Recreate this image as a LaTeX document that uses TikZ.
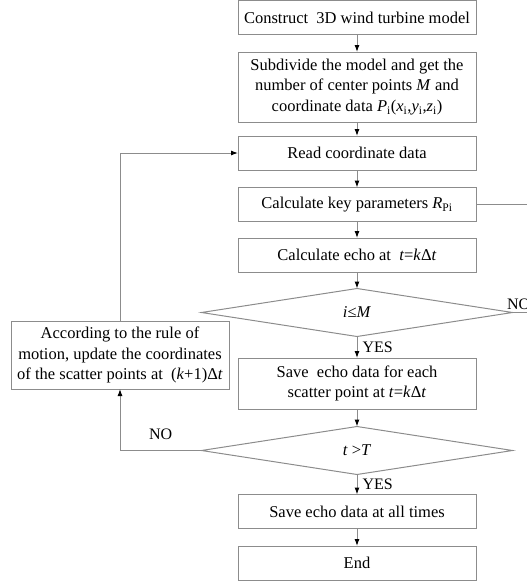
\documentclass[tikz,border=0pt]{standalone}
\usepackage{fontspec}
\setmainfont{Liberation Serif}
\usetikzlibrary{positioning,shapes.geometric,arrows.meta}
\definecolor{linegray}{RGB}{140,140,140}

\begin{document}
\begin{tikzpicture}[->,>={Latex[black,length=7pt,width=5pt]},node distance=17.5pt,
        box/.style={draw=linegray,line width=1pt,minimum width=238pt,minimum height=34pt,
            align=center,inner sep=3pt,outer sep=0pt,font=\fontsize{16.5pt}{20.8pt}\selectfont},
        decision/.style={diamond,aspect=6,draw=linegray,line width=1pt,minimum width=311pt,
            minimum height=48pt,inner sep=0pt,outer sep=0pt,font=\fontsize{16.5pt}{20.8pt}\selectfont},
        line/.style={draw=linegray,line width=1pt},
        every edge/.style={line}]

        \useasboundingbox (0,0) rectangle (527pt,-581pt);

        % Define boxes
        \node[box] (B1) at (357pt,-17.5pt) {Construct\ \ 3D wind turbine model};
        \node[box,minimum height=70pt] (B2) [below=of B1] {Subdivide the model and get the\\
            number of center points \textit{M} and\\
            coordinate data \textit{P}\textsubscript{i}(\textit{x}\textsubscript{i},\textit{y}\textsubscript{i},\textit{z}\textsubscript{i})};
        \node[box] (B3) [below=14pt of B2] {Read coordinate data};
        \node[box] (B4) [below=of B3] {Calculate key parameters \textit{R}\textsubscript{Pi}};
        \node[box] (B5) [below=16.5pt of B4] {Calculate echo at\ \ \textit{t}=\textit{k}Δ\textit{t}};
        \node[decision] (D1) [below=16.5pt of B5] {\textit{i}≤\textit{M}};
        \node[box,minimum height=51pt] (B6) [below=21.5pt of D1] {Save\ \ echo data for each\\
            scatter point at \textit{t}=\textit{k}Δ\textit{t}};
        \node[decision] (D2) [below=of B6] {\textit{t} >\textit{T}};
        \node[box] (B7) [below=20pt of D2] {Save echo data at all times};
        \node[box] (B8) [below=of B7] {End};
        \node[box,minimum width=218pt,minimum height=68pt] (L) at (120pt,-355pt) {According to the rule of\\
            motion, update the coordinates\\
            of the scatter points at\ \ (\textit{k}+1)Δ\textit{t}};

        % Ends off the right side
        \coordinate[right=70pt of B4] (R1);
        \coordinate[right=40pt of D1] (R2);

        % Draw edges
        \path[every node/.style={font=\fontsize{16pt}{19pt}\selectfont,inner sep=2pt}]
            (B1) edge (B2)
            (B2) edge (B3)
            (B3) edge (B4)
            (B4) edge (B5)
            (B5) edge (D1)
            (D1) edge node[right=3pt] {YES} (B6)
            (B6) edge (D2)
            (D2) edge node[right=3pt] {YES} (B7)
            (B7) edge (B8)
            (B4) edge[-] (R1)
            (D1) edge[-] node[pos=0,above right,xshift=-8pt] {NO} (R2);

        \draw[line] (D2.west) -| node[pos=0.25,above=8pt,font=\fontsize{16pt}{19pt}\selectfont,inner sep=2pt] {NO} (L.south);
        \draw[line] (L.north) |- (B3.west);

        \end{tikzpicture}
\end{document}
